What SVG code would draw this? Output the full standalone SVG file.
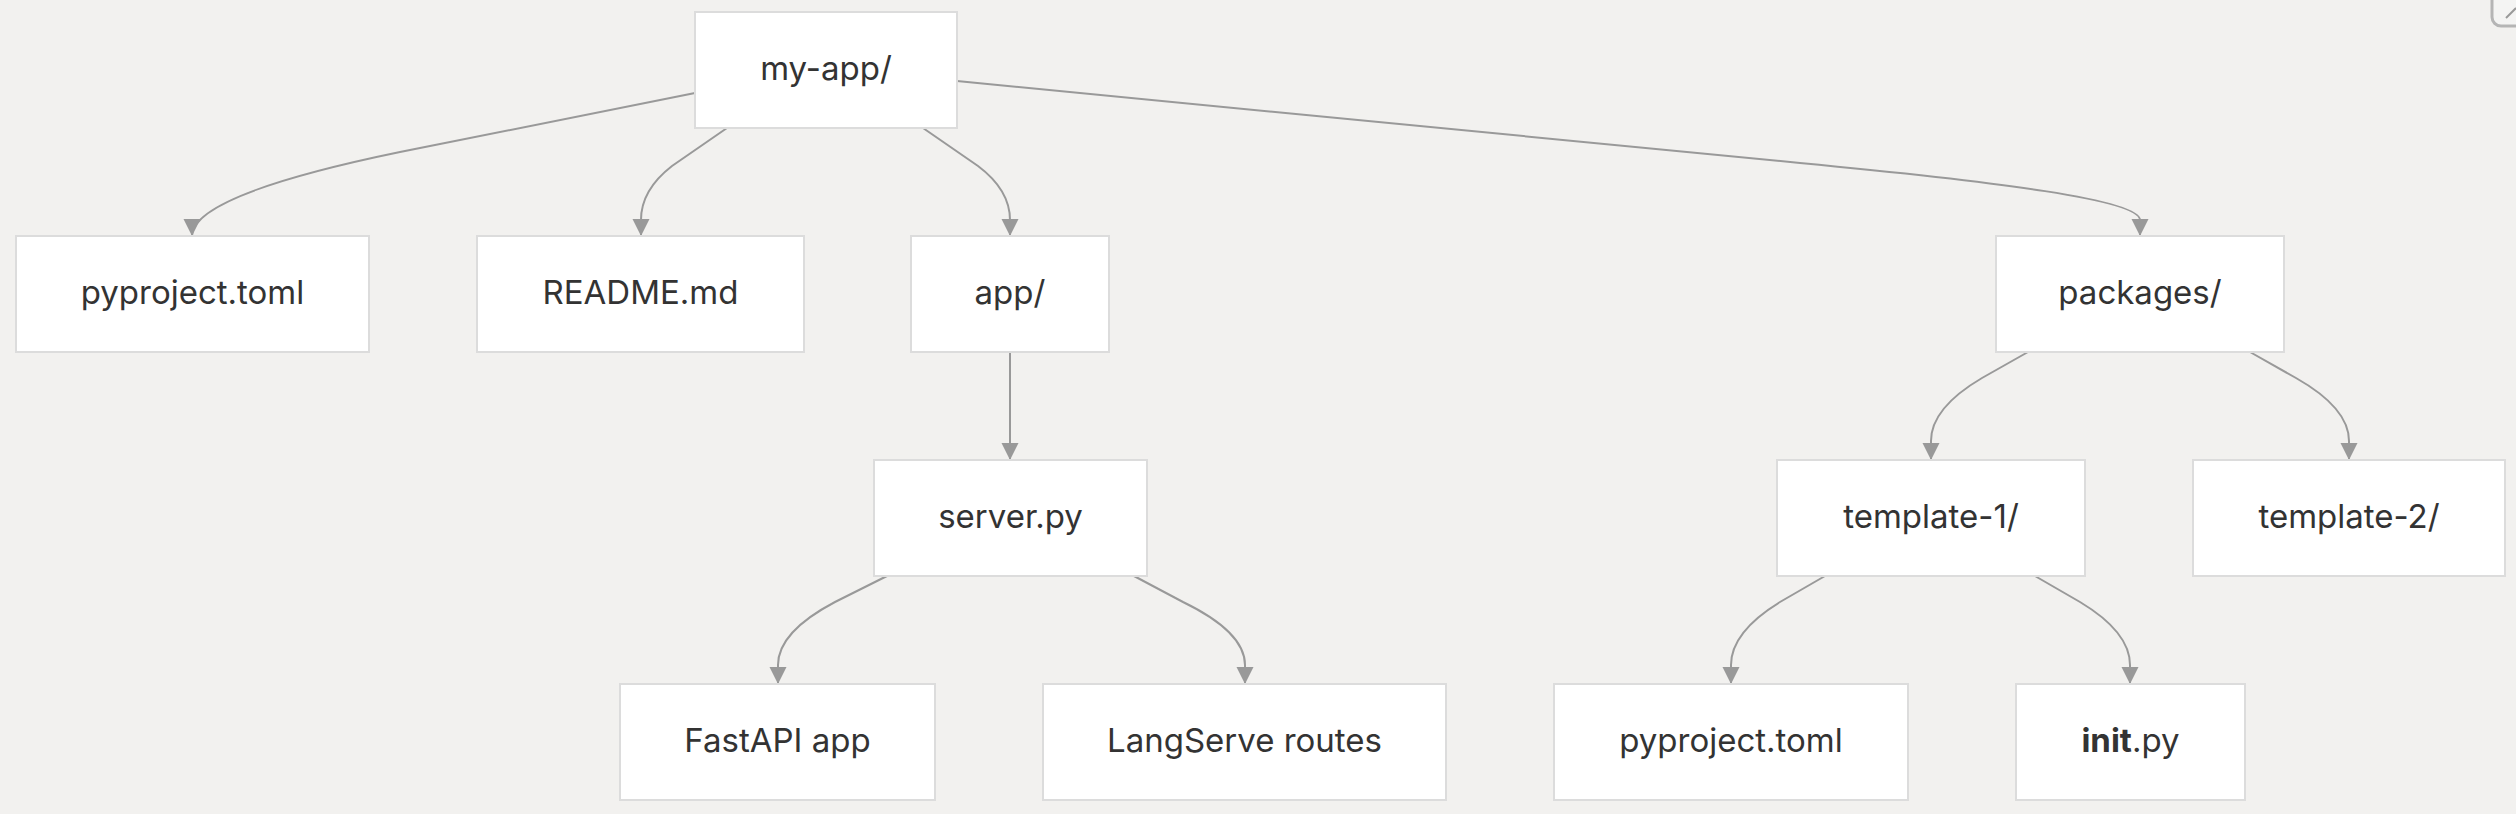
<svg xmlns="http://www.w3.org/2000/svg" width="2516" height="814" viewBox="0 0 2516 814">
<defs>
<style>
.node rect{fill:#ffffff;stroke:#dcdcdc;stroke-width:2}
.node text{font-family:Inter,"Noto Sans","Liberation Sans",sans-serif;font-size:33px;fill:#333333;text-anchor:middle}
.edge{fill:none;stroke:#999999;stroke-width:2;marker-end:url(#arrow)}
</style>
<marker id="arrow" markerUnits="userSpaceOnUse" markerWidth="18" markerHeight="18" refX="17" refY="8.5" orient="auto">
<path d="M0,0 L17,8.5 L0,17 z" fill="#999999"/>
</marker>
</defs>
<rect x="0" y="0" width="2516" height="814" fill="#f2f1ef"/>
<g id="ui-icon">
<rect x="2492" y="-20" width="50" height="46" rx="9" fill="#f4f4f3" stroke="#b5b5b5" stroke-width="3"/>
<line x1="2506" y1="18" x2="2516" y2="8" stroke="#999999" stroke-width="2"/>
</g>
<g id="connectors">
<path class="edge" d="M695,93 L400,152 Q192,195 192,236"/>
<path class="edge" d="M727,128 L672,166 Q641,190 641,220 L641,236"/>
<path class="edge" d="M923,128 L978,166 Q1010,190 1010,220 L1010,236"/>
<path class="edge" d="M957,81 L1800,163 C2000,182 2140,200 2140,220 L2140,236"/>
<path class="edge" d="M1010,352 L1010,460"/>
<path class="edge" d="M887,576 L835,602 Q778,632 778,665 L778,684"/>
<path class="edge" d="M1134,576 L1183,602 Q1245,632 1245,665 L1245,684"/>
<path class="edge" d="M2028,352 L1982,378 Q1931,408 1931,441 L1931,460"/>
<path class="edge" d="M2250,352 L2296,378 Q2349,408 2349,441 L2349,460"/>
<path class="edge" d="M1825,576 L1780,602 Q1731,632 1731,665 L1731,684"/>
<path class="edge" d="M2035,576 L2080,602 Q2130,632 2130,665 L2130,684"/>
</g>
<g id="node-myapp" class="node"><rect x="695" y="12" width="262" height="116"/><text x="826" y="80">my-app/</text></g>
<g id="node-pyproject" class="node"><rect x="16" y="236" width="353" height="116"/><text x="192.5" y="304">pyproject.toml</text></g>
<g id="node-readme" class="node"><rect x="477" y="236" width="327" height="116"/><text x="640.5" y="304">README.md</text></g>
<g id="node-app" class="node"><rect x="911" y="236" width="198" height="116"/><text x="1010" y="304">app/</text></g>
<g id="node-packages" class="node"><rect x="1996" y="236" width="288" height="116"/><text x="2140" y="304">packages/</text></g>
<g id="node-server" class="node"><rect x="874" y="460" width="273" height="116"/><text x="1010.5" y="528">server.py</text></g>
<g id="node-template1" class="node"><rect x="1777" y="460" width="308" height="116"/><text x="1931" y="528">template-1/</text></g>
<g id="node-template2" class="node"><rect x="2193" y="460" width="312" height="116"/><text x="2349" y="528">template-2/</text></g>
<g id="node-fastapi" class="node"><rect x="620" y="684" width="315" height="116"/><text x="777.5" y="752">FastAPI app</text></g>
<g id="node-langserve" class="node"><rect x="1043" y="684" width="403" height="116"/><text x="1244.5" y="752">LangServe routes</text></g>
<g id="node-pyproject2" class="node"><rect x="1554" y="684" width="354" height="116"/><text x="1731" y="752">pyproject.toml</text></g>
<g id="node-init" class="node"><rect x="2016" y="684" width="229" height="116"/><text x="2130.5" y="752"><tspan font-weight="bold">init</tspan>.py</text></g>
</svg>
